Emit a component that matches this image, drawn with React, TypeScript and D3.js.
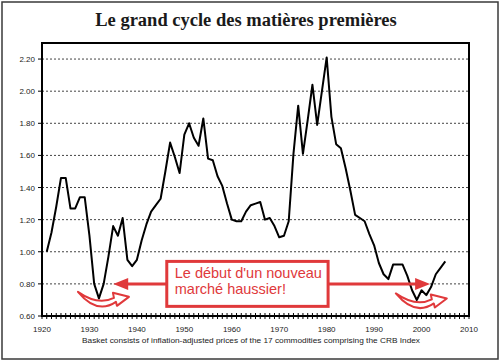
import React from "react";
import * as d3 from "d3";

const years: number[] = [
  1921, 1922, 1923, 1924, 1925, 1926, 1927, 1928, 1929, 1930,
  1931, 1932, 1933, 1934, 1935, 1936, 1937, 1938, 1939, 1940,
  1941, 1942, 1943, 1944, 1945, 1946, 1947, 1948, 1949, 1950,
  1951, 1952, 1953, 1954, 1955, 1956, 1957, 1958, 1959, 1960,
  1961, 1962, 1963, 1964, 1965, 1966, 1967, 1968, 1969, 1970,
  1971, 1972, 1973, 1974, 1975, 1976, 1977, 1978, 1979, 1980,
  1981, 1982, 1983, 1984, 1985, 1986, 1987, 1988, 1989, 1990,
  1991, 1992, 1993, 1994, 1995, 1996, 1997, 1998, 1999, 2000,
  2001, 2002, 2003, 2004, 2005,
];

const values: number[] = [
  1.0, 1.12, 1.28, 1.46, 1.46, 1.27, 1.27, 1.34, 1.34, 1.1,
  0.8, 0.71, 0.8, 0.97, 1.16, 1.1, 1.21, 0.95, 0.91, 0.95,
  1.07, 1.17, 1.25, 1.29, 1.33, 1.5, 1.68, 1.59, 1.49, 1.73,
  1.8, 1.71, 1.66, 1.83, 1.58, 1.57, 1.47, 1.41, 1.3, 1.2,
  1.19, 1.19, 1.25, 1.29, 1.3, 1.31, 1.2, 1.21, 1.16, 1.09,
  1.1, 1.19, 1.61, 1.91, 1.61, 1.82, 2.04, 1.79, 2.0, 2.21,
  1.84, 1.67, 1.645, 1.52, 1.38, 1.23, 1.21, 1.19, 1.11, 1.04,
  0.93, 0.86, 0.83, 0.92, 0.92, 0.92, 0.85, 0.76, 0.7, 0.76,
  0.73, 0.78, 0.86, 0.9, 0.94,
];

const yTicks: number[] = [0.6, 0.8, 1.0, 1.2, 1.4, 1.6, 1.8, 2.0, 2.2];
const xTicks: number[] = [1920, 1930, 1940, 1950, 1960, 1970, 1980, 1990, 2000, 2010];

const title = "Le grand cycle des matières premières";
const subtitle =
  "Basket consists of inflation-adjusted prices of the 17 commodities comprising the  CRB Index";
const noteLines: string[] = ["Le début d'un nouveau", "marché haussier!"];

// annotation anchors in data units
const troughs: [number, number][] = [
  [1932, 0.71],
  [1999, 0.7],
];
const arrowLevel = 0.8;
const arrowTips: number[] = [1935, 2001.8];
const noteBox = { x0: 1946.3, x1: 1980.3, y0: 0.94, y1: 0.66 };

const W = 503;
const H = 362;
const RED = "#e0393b";

export default function App() {
  const x = d3.scaleLinear().domain([1920, 2010]).range([42, 469]);
  const y = d3.scaleLinear().domain([0.6, 2.3]).range([316, 43]);

  const line = d3
    .line<number>()
    .x((_, i) => x(years[i]))
    .y((d) => y(d))
    .curve(d3.curveLinear);

  const minorYears = d3.range(1920, 2011, 1);

  const bx0 = x(noteBox.x0);
  const bx1 = x(noteBox.x1);
  const by0 = y(noteBox.y0);
  const by1 = y(noteBox.y1);
  const ay = y(arrowLevel);
  const leftTip = x(arrowTips[0]);
  const rightTip = x(arrowTips[1]);

  const swoosh =
    "M -22,-7 Q -3,16 16,3 L 17,7 L 29,-2 L 13,-6 L 14,-1 Q -2,7 -22,-7 Z";

  return (
    <svg
      width={W}
      height={H}
      style={{ position: "absolute", left: 0, top: 0, background: "#fff" }}
      fontFamily="'Liberation Sans', Arial, sans-serif"
    >
      <rect x={0} y={0} width={W} height={H} fill="#fff" />
      <rect x={2} y={2} width={496} height={357} fill="none" stroke="#3a3a3a" strokeWidth={1.5} />

      <text
        x={246}
        y={26}
        textAnchor="middle"
        fontFamily="'Liberation Serif', 'Times New Roman', serif"
        fontWeight="bold"
        fontSize={18.5}
        fill="#1a1a1a"
      >
        {title}
      </text>

      {/* gridlines */}
      {yTicks.slice(1).map((t) => (
        <line
          key={"g" + t}
          x1={42}
          x2={469}
          y1={y(t)}
          y2={y(t)}
          stroke="#444"
          strokeWidth={1}
          strokeDasharray="2,2"
        />
      ))}

      {/* y ticks and labels */}
      {yTicks.map((t) => (
        <g key={"y" + t}>
          <line x1={38} x2={42} y1={y(t)} y2={y(t)} stroke="#000" strokeWidth={1} />
          <text x={35} y={y(t) + 3} textAnchor="end" fontSize={8} fill="#222">
            {d3.format(".2f")(t)}
          </text>
        </g>
      ))}

      {/* x minor ticks */}
      {minorYears.map((yr) => (
        <line
          key={"m" + yr}
          x1={x(yr)}
          x2={x(yr)}
          y1={313}
          y2={319}
          stroke="#000"
          strokeWidth={1}
        />
      ))}
      {xTicks.map((t) => (
        <text key={"x" + t} x={x(t)} y={332} textAnchor="middle" fontSize={8} fill="#222">
          {t}
        </text>
      ))}

      <text
        x={251}
        y={343}
        textAnchor="middle"
        fontSize={7.5}
        fill="#222"
        textLength={338}
        lengthAdjust="spacingAndGlyphs"
      >
        {subtitle}
      </text>

      {/* annotation: swooshes */}
      {troughs.map(([yr, v], i) => (
        <path
          key={"s" + i}
          d={swoosh}
          transform={`translate(${x(yr) + 1},${y(v) + 0.5})`}
          fill="#fff"
          stroke={RED}
          strokeWidth={2}
          strokeLinejoin="round"
        />
      ))}

      {/* data line */}
      <path d={line(values) || ""} fill="none" stroke="#000" strokeWidth={2} strokeLinejoin="round" />

      {/* plot frame */}
      <rect x={42} y={43} width={427} height={273} fill="none" stroke="#000" strokeWidth={2} />

      {/* arrows */}
      <line x1={bx0} x2={leftTip + 12} y1={ay} y2={ay} stroke={RED} strokeWidth={3} />
      <path
        d={`M ${leftTip},${ay} L ${leftTip + 15},${ay - 6} L ${leftTip + 15},${ay + 6} Z`}
        fill={RED}
      />
      <line x1={bx1} x2={rightTip - 12} y1={ay} y2={ay} stroke={RED} strokeWidth={3} />
      <path
        d={`M ${rightTip},${ay} L ${rightTip - 15},${ay - 6} L ${rightTip - 15},${ay + 6} Z`}
        fill={RED}
      />

      {/* note box */}
      <rect
        x={bx0}
        y={by0}
        width={bx1 - bx0}
        height={by1 - by0}
        fill="#fff"
        stroke={RED}
        strokeWidth={3}
      />
      {noteLines.map((s, i) => (
        <text key={"n" + i} x={bx0 + 8} y={by0 + 17 + i * 16} fontSize={14.5} fill={RED}>
          {s}
        </text>
      ))}
    </svg>
  );
}
